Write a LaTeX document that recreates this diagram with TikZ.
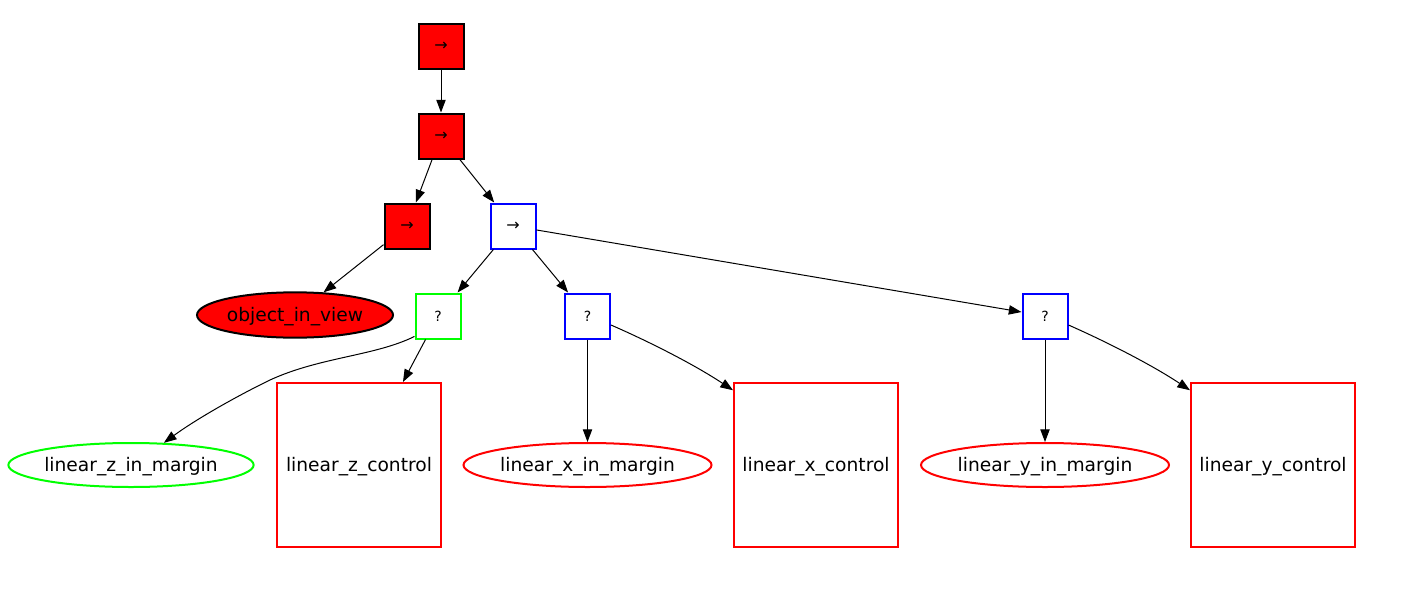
\documentclass[tikz,border=0pt]{standalone}
\usepackage{fontspec}
\setmainfont{DejaVu Sans}
\usetikzlibrary{shapes.geometric,arrows.meta}
\definecolor{gvred}{RGB}{255,0,0}
\definecolor{gvgreen}{RGB}{0,255,0}
\definecolor{gvblue}{RGB}{0,0,255}
\tikzset{
  sbox/.style={draw, rectangle, line width=1.5pt, inner sep=0pt, minimum width=33.75pt, minimum height=33.75pt, font=\fontsize{10.5}{12}\selectfont},
  redsel/.style={sbox, fill=gvred, draw=black, font=\fontsize{12}{14}\selectfont},
  bluesel/.style={sbox, draw=gvblue, fill=white},
  greensel/.style={sbox, draw=gvgreen, fill=white},
  bigbox/.style={draw=gvred, rectangle, line width=1.5pt, inner sep=0pt, minimum width=123pt, minimum height=123pt, text height=13pt, text depth=2.8pt, font=\fontsize{14}{16}\selectfont},
  oval/.style={ellipse, line width=1.5pt, inner sep=0pt, minimum width=183pt, minimum height=33pt, text height=13pt, text depth=2.8pt, font=\fontsize{14}{16}\selectfont},
  edge/.style={draw, line width=0.75pt, -{Triangle[length=9.5pt,width=7pt]}}
}
\begin{document}
\begin{tikzpicture}[x=0.75pt,y=-0.75pt]
\useasboundingbox (0,0) rectangle (1428,614);
\node[redsel] (n1) at (441,46) {→};
\node[redsel] (n2) at (441,136) {→};
\node[redsel] (n3) at (407,226) {→};
\node[bluesel, font=\fontsize{12}{14}\selectfont] (n4) at (513,226) {→};
\node[oval, draw=black, fill=gvred, minimum width=147pt, minimum height=34pt] (obj) at (295,315) {object\_in\_view};
\node[greensel] (g) at (438,316) {?};
\node[bluesel] (bx) at (587.5,316) {?};
\node[bluesel] (by) at (1045,316) {?};
\node[oval, draw=gvgreen] (lzm) at (131,465) {linear\_z\_in\_margin};
\node[bigbox] (lzc) at (359,465) {linear\_z\_control};
\node[oval, draw=gvred, minimum width=186pt] (lxm) at (587.5,465) {linear\_x\_in\_margin};
\node[bigbox] (lxc) at (816,465) {linear\_x\_control};
\node[oval, draw=gvred, minimum width=186pt] (lym) at (1045,465) {linear\_y\_in\_margin};
\node[bigbox] (lyc) at (1273,465) {linear\_y\_control};

\draw[edge] (n1) -- (n2);
\draw[edge] (n2) -- (n3);
\draw[edge] (n2) -- (n4);
\draw[edge] (n3) -- (obj);
\draw[edge] (n4) -- (g);
\draw[edge] (n4) -- (bx);
\draw[edge] (n4) -- (by);
\draw[edge] (g.221) .. controls (375,356) and (320,357) .. (270,380) .. controls (235,397) and (195,420) .. (lzm.34);
\draw[edge] (g) -- (lzc);
\draw[edge] (bx) -- (lxm);
\draw[edge] (bx.-21) .. controls (650,342) and (695,365) .. (lxc.138);
\draw[edge] (by) -- (lym);
\draw[edge] (by.-21) .. controls (1107,342) and (1152,365) .. (lyc.138);
\end{tikzpicture}
\end{document}
